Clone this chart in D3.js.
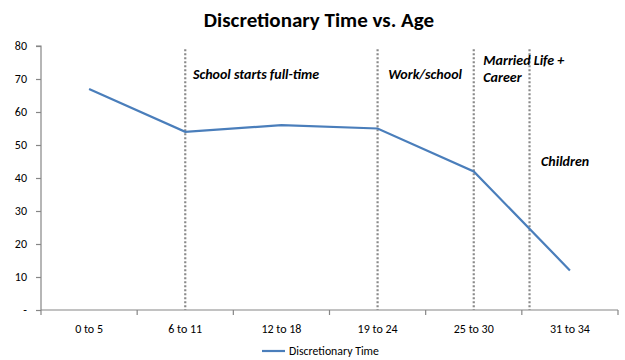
<!DOCTYPE html>
<html><head><meta charset="utf-8">
<script src="https://cdn.jsdelivr.net/npm/d3@7"></script>
<style>body{margin:0;background:#fff}svg{display:block}</style>
</head><body>
<svg id="c" width="625" height="360"></svg>
<script>
const categories = ["0 to 5","6 to 11","12 to 18","19 to 24","25 to 30","31 to 34"];
const values = [67, 54, 56, 55, 42, 12];
const yTicks = [0,10,20,30,40,50,60,70,80];
const markerPositions = [1, 3, 4, 4.58];
const annotations = [
  {lines:["School starts full-time"], pos:1.08, v:70},
  {lines:["Work/school"], pos:3.11, v:70},
  {lines:["Married Life +","Career"], pos:4.1, v:74.3},
  {lines:["Children"], pos:4.7, v:43.6}
];
const seriesName = "Discretionary Time";

const svg = d3.select("#c");
const m = {l:41, r:7, t:46, b:50};
const W = 625, H = 360;
const x = d3.scaleBand().domain(categories).range([m.l, W-m.r]);
const y = d3.scaleLinear().domain([0,80]).range([H-m.b, m.t]);
const xi = i => m.l + x.step()*(i+0.5);
const font = "Calibri, Carlito, Lato, 'Liberation Sans', sans-serif";

svg.append("text").attr("x",319).attr("y",27).attr("text-anchor","middle")
  .attr("font-family",font).attr("font-weight","bold").attr("font-size",21).text("Discretionary Time vs. Age");

const ya = svg.append("g").attr("transform",`translate(${m.l},0)`)
  .call(d3.axisLeft(y).tickValues(yTicks).tickSize(5).tickPadding(9).tickFormat(d=>d===0?"-":d));
const xa = svg.append("g").attr("transform",`translate(0,${H-m.b})`)
  .call(d3.axisBottom(x).tickSize(0).tickPadding(14));
[ya,xa].forEach(g=>{
  g.selectAll("path,line").attr("stroke","#868686").attr("stroke-width",1.2);
  g.selectAll("text").attr("font-family",font).attr("font-size",12).attr("fill","#000");
});
ya.select(".domain").attr("d",`M-5,${y(80)}H0V${y(0)}`);
xa.select(".domain").attr("d",`M${m.l},0H${W-m.r}`);
xa.selectAll(".bt").data(d3.range(categories.length+1)).enter().append("line")
  .attr("x1",i=>m.l+x.step()*i).attr("x2",i=>m.l+x.step()*i).attr("y1",0).attr("y2",5)
  .attr("stroke","#868686").attr("stroke-width",1.2);

svg.selectAll(".vm").data(markerPositions).enter().append("line")
  .attr("x1",d=>xi(d)).attr("x2",d=>xi(d)).attr("y1",y(79)).attr("y2",y(0))
  .attr("stroke","#8a8a8a").attr("stroke-width",2.2).attr("stroke-dasharray","2,2");

svg.append("path").datum(values)
  .attr("d", d3.line().x((d,i)=>xi(i)).y(d=>y(d)))
  .attr("fill","none").attr("stroke","#4a7ebb").attr("stroke-width",2.2);

annotations.forEach(a=>{
  const t = svg.append("text").attr("x",xi(a.pos)).attr("y",y(a.v))
    .attr("font-family",font).attr("font-weight","bold").attr("font-style","italic").attr("font-size",14);
  a.lines.forEach((l,k)=>t.append("tspan").attr("x",xi(a.pos)).attr("dy",k?17:0).text(l));
});

svg.append("line").attr("x1",262).attr("x2",285).attr("y1",351).attr("y2",351)
  .attr("stroke","#4a7ebb").attr("stroke-width",2.2);
svg.append("text").attr("x",289).attr("y",355).attr("font-family",font).attr("font-size",11.8).text(seriesName);
</script>
</body></html>
